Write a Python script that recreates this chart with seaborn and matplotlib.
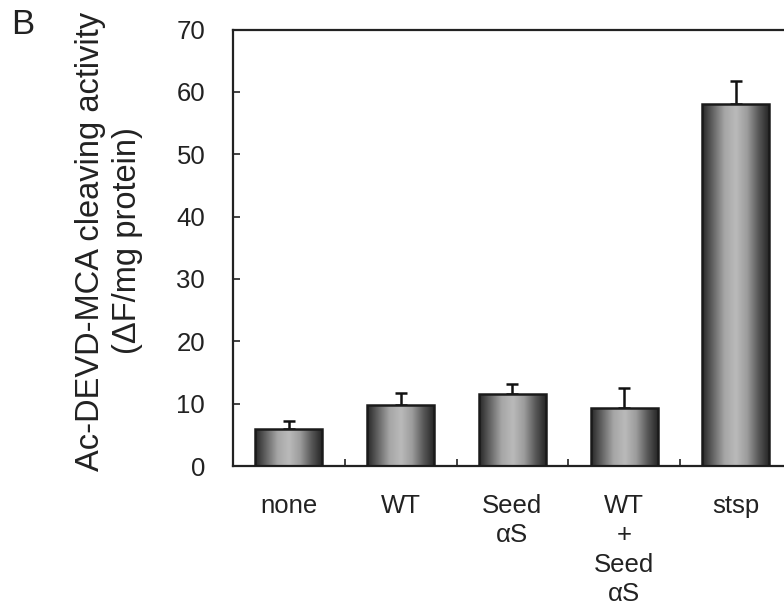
import numpy as np
import matplotlib
matplotlib.use("Agg")
import matplotlib.pyplot as plt
import seaborn as sns
import pandas as pd
from matplotlib.colors import LinearSegmentedColormap

categories = ["none", "WT", "Seed\n\u03b1S", "WT\n+\nSeed\n\u03b1S", "stsp"]
values = [6.0, 9.8, 11.6, 9.3, 58.0]
errors = [1.2, 1.9, 1.5, 3.2, 3.7]
yticks = [0, 10, 20, 30, 40, 50, 60, 70]

sns.set_theme(style="white")
plt.rcParams['font.family'] = ['Liberation Sans', 'DejaVu Sans']

fig = plt.figure(figsize=(7.84, 6.12), dpi=100)
ax = fig.add_axes([233/784, 1-466/612, 1-233/784, (466-29.5)/612])

df = pd.DataFrame({"cat": categories, "val": values})
sns.barplot(data=df, x="cat", y="val", ax=ax, width=0.6, color="#888888",
            edgecolor="#1a1a1a", linewidth=1.8, errorbar=None, zorder=3)

cmap = LinearSegmentedColormap.from_list(
    "cyl", ["#262626", "#666666", "#a6a6a6", "#bababa", "#9c9c9c", "#585858", "#222222"])
grad = np.linspace(0, 1, 256).reshape(1, -1)
for p in list(ax.patches):
    x0, y0, w, h = p.get_x(), p.get_y(), p.get_width(), p.get_height()
    im = ax.imshow(grad, extent=[x0, x0 + w, y0, y0 + h], aspect="auto",
                   cmap=cmap, zorder=2.5, interpolation="bicubic")
    im.set_clip_path(p)
    p.set_facecolor("none")

ax.errorbar(x=np.arange(len(values)), y=values,
            yerr=[np.zeros(len(errors)), errors], fmt="none",
            ecolor="#111111", elinewidth=1.8, capsize=4.3, capthick=1.8, zorder=2)

ax.set_xlim(-0.5, 4.43)
ax.set_ylim(0, 70)
ax.set_yticks(yticks)
ax.set_xticks(range(len(categories)))
ax.set_xticklabels(categories, linespacing=1.29, va="top")
ax.set_xticks(np.arange(0.5, 4.0, 1.0), minor=True)
ax.tick_params(axis="x", which="major", length=0, pad=20, labelsize=18.5, colors="#222222")
ax.tick_params(axis="x", which="minor", direction="in", length=5, width=1.2, color="#222222", bottom=True)
ax.tick_params(axis="y", direction="in", length=5, width=1.2, pad=20, labelsize=18.5,
               colors="#222222", left=True)
ax.set_xlabel("")
ax.set_ylabel("")
for s in ["left", "bottom", "top"]:
    ax.spines[s].set_visible(True)
    ax.spines[s].set_linewidth(1.6)
    ax.spines[s].set_color("#222222")
ax.spines["right"].set_visible(False)
ax.grid(False)

fig.text(91/784, 1-241/612, "Ac-DEVD-MCA cleaving activity", rotation=90,
         ha="center", va="center", fontsize=23.5, color="#222222")
fig.text(128/784, 1-241/612, "(\u0394F/mg protein)", rotation=90,
         ha="center", va="center", fontsize=23.5, color="#222222")
fig.text(23/784, 1-24/612, "B", ha="center", va="center", fontsize=25, color="#222222")

fig.savefig("out.png", dpi=100, facecolor="white")
